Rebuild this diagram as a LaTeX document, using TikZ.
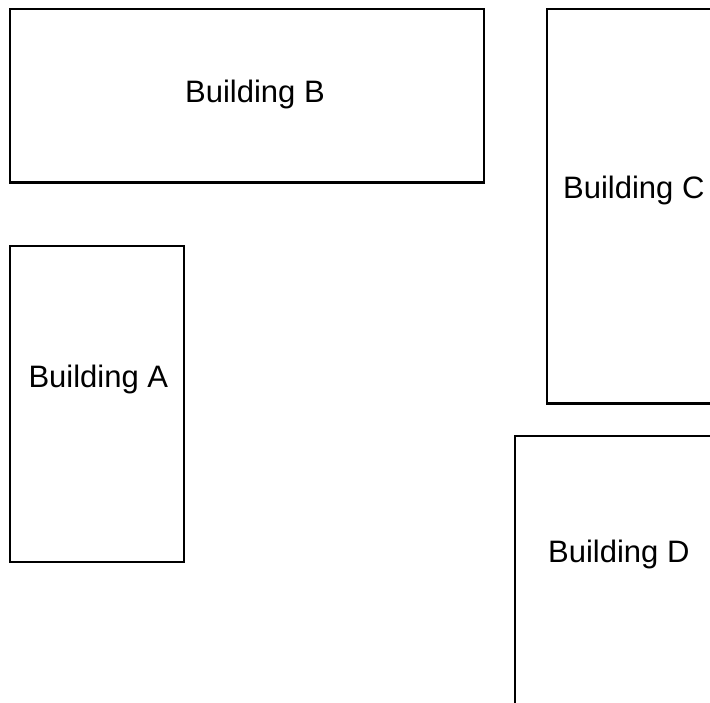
\documentclass[tikz,border=0pt]{standalone}
\usepackage{fontspec}
\setmainfont{Liberation Sans}
\begin{document}
\begin{tikzpicture}[x=1pt,y=-1pt,
  building/.style={draw=black,line width=2.4pt,fill=none},
  label/.style={inner sep=0pt,anchor=base west,font=\fontsize{31}{36}\selectfont}]
\useasboundingbox (0,0) rectangle (710,702);
\clip (0,0) rectangle (710,702);
% building outlines (C and D run past the sheet edge)
\draw[building] (10,9) rectangle (484,182.3);
\draw[building] (10,246) rectangle (184,562);
\draw[building] (547,9) rectangle (730,403.3);
\draw[building] (514.7,435.8) rectangle (730,730);
% labels
\node[label] (lb) at (185,102.3) {Building B};
\node[label] (la) at (28.3,387) {Building A};
\node[label] (lc) at (563,198) {Building C};
\node[label] (ld) at (548,562) {Building D};
\end{tikzpicture}
\end{document}
